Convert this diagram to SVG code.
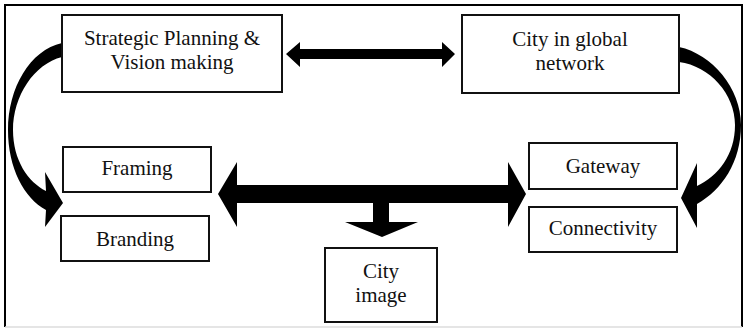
<svg xmlns="http://www.w3.org/2000/svg" width="746" height="329" viewBox="0 0 746 329">
<style>
.box{fill:#fff;stroke:#111;stroke-width:2}
.t{font-family:"Liberation Serif","Times New Roman",serif;font-size:21px;fill:#111;text-anchor:middle}
.ar{fill:#000;stroke:none}
</style>
<rect width="746" height="329" fill="#fff"/>
<path d="M5,327 V5 H742 V327" fill="none" stroke="#000" stroke-width="2"/>
<line x1="5" y1="327" x2="742" y2="327" stroke="#ddd" stroke-width="1.5"/>
<g id="connectors">
<path class="ar" d="M286,54 L300,42 L300,49 L442,49 L442,42 L455,54 L442,67 L442,59 L300,59 L300,67 Z"/>
<path class="ar" d="M218,194 L237,162 L237,185 L373,185 L389,185 L508,185 L508,162 L526,194 L508,227 L508,203 L389,203 L389,222 L418,222 L382,237 L345,222 L373,222 L373,203 L237,203 L237,227 Z"/>
<path class="ar" d="M62,43 C30,50 8,88 8,130 C8,168 24,198 46,210 L45,227 L63,203 L45,172 L46,191 C28,182 13,160 13,130 C13,96 34,64 62,57 Z"/>
<path class="ar" d="M679,47 C712,54 741,88 741,125 C741,162 722,190 697,204 L697,228 L681,198 L697,163 L697,186 C718,176 735,155 735,125 C735,94 710,66 679,62 Z"/>
</g>
<g id="strategic">
<rect class="box" x="62" y="15" width="220" height="77"/>
<text class="t" x="172" y="45">Strategic Planning &amp;</text>
<text class="t" x="172" y="69">Vision making</text>
</g>
<g id="global">
<rect class="box" x="462" y="15" width="217" height="78"/>
<text class="t" x="570" y="46">City in global</text>
<text class="t" x="570" y="70">network</text>
</g>
<g id="framing">
<rect class="box" x="63" y="147" width="148" height="45"/>
<text class="t" x="137" y="175">Framing</text>
</g>
<g id="branding">
<rect class="box" x="61" y="216" width="148" height="45"/>
<text class="t" x="135" y="246">Branding</text>
</g>
<g id="gateway">
<rect class="box" x="529" y="143" width="148" height="46"/>
<text class="t" x="603" y="173">Gateway</text>
</g>
<g id="connectivity">
<rect class="box" x="529" y="207" width="148" height="45"/>
<text class="t" x="603" y="235">Connectivity</text>
</g>
<g id="cityimage">
<rect class="box" x="325" y="248" width="112" height="74"/>
<text class="t" x="381" y="278">City</text>
<text class="t" x="381" y="302">image</text>
</g>
</svg>
